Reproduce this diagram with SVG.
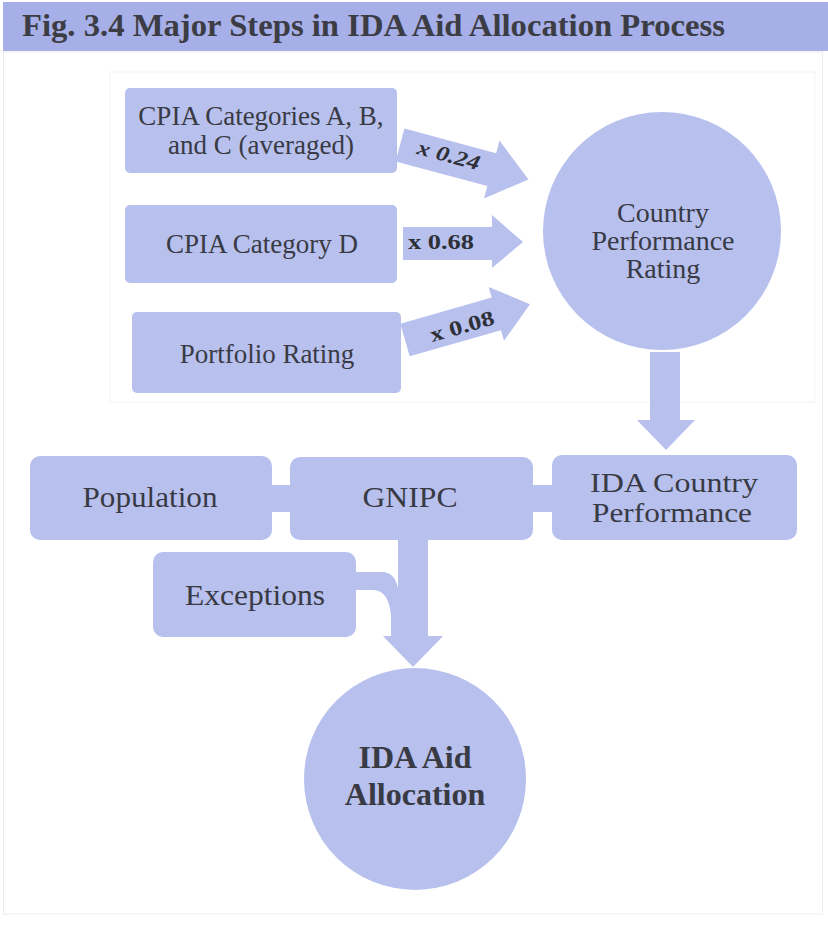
<svg xmlns="http://www.w3.org/2000/svg" width="828" height="925" viewBox="0 0 828 925">
<style>
.shape{fill:#b8c0ee}
.conn{fill:#b8c0ee}
.t{font-family:"Liberation Serif","DejaVu Serif",serif;fill:#383a44;text-anchor:middle}
.b{font-weight:bold}
.lbl{font-family:"Liberation Serif","DejaVu Serif",serif;font-weight:bold;fill:#2e3038;font-size:21px;text-anchor:middle}
.title{font-family:"Liberation Serif","DejaVu Serif",serif;font-weight:bold;fill:#3c3c44;font-size:31px}
</style>
<rect x="0" y="0" width="828" height="925" fill="#ffffff"/>
<rect x="3.5" y="52" width="819" height="862" fill="none" stroke="#ececf0" stroke-width="1"/>
<rect x="110" y="72" width="705" height="330" fill="none" stroke="#f3f3f6" stroke-width="1"/>
<g id="title">
<rect x="3" y="2" width="825" height="49" fill="#a6afe7"/>
<text class="title" x="22" y="36" textLength="703" lengthAdjust="spacingAndGlyphs">Fig. 3.4 Major Steps in IDA Aid Allocation Process</text>
</g>
<g id="connectors">
<g transform="translate(400,145) rotate(15)"><polygon class="conn" points="0,-17 95,-17 95,-30 133,0 95,30 95,17 0,17"/></g>
<polygon class="conn" points="403,227 492,227 492,215 523,242 492,268 492,260 403,260"/>
<g transform="translate(405,340) rotate(-16)"><polygon class="conn" points="0,-17 95,-17 95,-28 130,0 95,28 95,17 0,17"/></g>
<polygon class="conn" points="650,352 680,352 680,420 695,420 666,450 637,420 650,420"/>
<rect class="conn" x="268" y="485" width="26" height="27"/>
<rect class="conn" x="528" y="485" width="28" height="27"/>
<path class="conn" d="M350 572 L384 572 Q399 574 399 600 L399 640 L391 640 L391 616 Q389 591 374 590 L350 590 Z"/>
<polygon class="conn" points="398,538 428,538 428,636 443,636 413,667 383,636 398,636"/>
<text class="lbl" transform="translate(447,162) rotate(15)" font-style="italic" textLength="64" lengthAdjust="spacingAndGlyphs">x 0.24</text>
<text class="lbl" x="441" y="249" textLength="66" lengthAdjust="spacingAndGlyphs">x 0.68</text>
<text class="lbl" transform="translate(464,333) rotate(-16)" textLength="66" lengthAdjust="spacingAndGlyphs">x 0.08</text>
</g>
<g id="cpia-abc">
<rect class="shape" x="125" y="88" width="272" height="85" rx="5"/>
<text class="t" x="261" y="125" font-size="27">CPIA Categories A, B,</text>
<text class="t" x="261" y="154" font-size="27">and C (averaged)</text>
</g>
<g id="cpia-d">
<rect class="shape" x="125" y="205" width="272" height="78" rx="5"/>
<text class="t" x="262" y="253" font-size="27">CPIA Category D</text>
</g>
<g id="portfolio">
<rect class="shape" x="132" y="312" width="269" height="81" rx="5"/>
<text class="t" x="267" y="363" font-size="27">Portfolio Rating</text>
</g>
<g id="cpr">
<circle class="shape" cx="662" cy="231" r="119"/>
<text class="t" x="663" y="222" font-size="28">Country</text>
<text class="t" x="663" y="250" font-size="28">Performance</text>
<text class="t" x="663" y="278" font-size="28">Rating</text>
</g>
<g id="population">
<rect class="shape" x="30" y="456" width="242" height="84" rx="10"/>
<text class="t" x="150" y="507" font-size="30" textLength="135" lengthAdjust="spacingAndGlyphs">Population</text>
</g>
<g id="gnipc">
<rect class="shape" x="290" y="457" width="243" height="83" rx="10"/>
<text class="t" x="410" y="507" font-size="30" textLength="95" lengthAdjust="spacingAndGlyphs">GNIPC</text>
</g>
<g id="ida-cp">
<rect class="shape" x="552" y="455" width="245" height="85" rx="10"/>
<text class="t" x="674" y="492" font-size="28" textLength="168" lengthAdjust="spacingAndGlyphs">IDA Country</text>
<text class="t" x="672" y="522" font-size="28" textLength="160" lengthAdjust="spacingAndGlyphs">Performance</text>
</g>
<g id="exceptions">
<rect class="shape" x="153" y="552" width="203" height="85" rx="10"/>
<text class="t" x="255" y="605" font-size="30" textLength="140" lengthAdjust="spacingAndGlyphs">Exceptions</text>
</g>
<g id="ida-aid">
<circle class="shape" cx="415" cy="779" r="111"/>
<text class="t b" x="415" y="768" font-size="32">IDA Aid</text>
<text class="t b" x="415" y="805" font-size="32">Allocation</text>
</g>
</svg>
